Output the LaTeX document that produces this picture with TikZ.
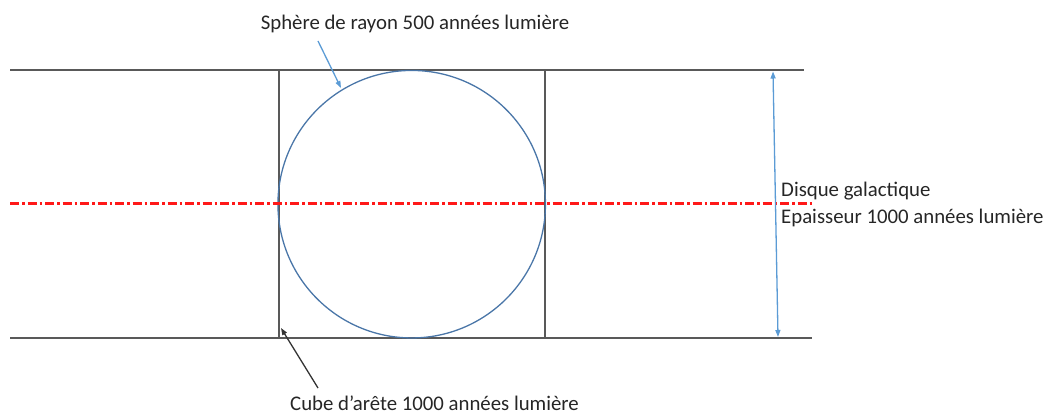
\documentclass[tikz,border=0pt]{standalone}
\usepackage{fontspec}
\setmainfont{Carlito}
\usetikzlibrary{arrows.meta}
\definecolor{lgray}{HTML}{595959}
\definecolor{cblue}{HTML}{4A76A8}
\definecolor{ablue}{HTML}{5B9BD5}
\definecolor{redline}{rgb}{1,0.1,0.1}
\begin{document}
\begin{tikzpicture}[x=1pt,y=-1pt,
  edge/.style={draw=lgray,line width=2pt},
  lbl/.style={font=\fontsize{20.8}{24}\selectfont,text=black!85,inner sep=0pt},
  tip/.style={-{Triangle[length=7pt,width=5pt]}}]
\useasboundingbox (0,0) rectangle (1052,414);
\coordinate (tl) at (10,70.5);
\coordinate (tr) at (804,70.5);
\coordinate (bl) at (10,338);
\coordinate (br) at (812,338);
\coordinate (ct) at (278.5,70.5);
\coordinate (cb) at (278.5,338);
\coordinate (dt) at (545,70.5);
\coordinate (db) at (545,338);
\coordinate (ml) at (10,203.5);
\coordinate (mr) at (812,203.5);
\draw[edge] (tl) -- (tr);
\draw[edge] (bl) -- (br);
\draw[edge] (ct) -- (cb);
\draw[edge] (dt) -- (db);
\node[draw=cblue,line width=1.3pt,circle,minimum size=267.5pt,inner sep=0pt] (sph) at (411.7,204.2) {};
\draw[color=redline,line width=2.4pt,dash pattern=on 9pt off 3pt on 2.5pt off 3pt] (ml) -- (mr);
\coordinate (at) at (773,71.5);
\coordinate (ab) at (778,337);
\draw[ablue,line width=1.3pt,{Triangle[length=7pt,width=5pt]}-{Triangle[length=7pt,width=5pt]}] (at) -- (ab);
\node[lbl,anchor=base west] (d1) at (781,197) {Disque galactique};
\node[lbl,anchor=base west] (d2) at (781,223) {Epaisseur 1000 années lumière};
\node[lbl,anchor=base] (sl) at (415,30) {Sphère de rayon 500 années lumière};
\node[lbl,anchor=base] (cl) at (434.5,410) {Cube d’arête 1000 années lumière};
\coordinate (sa) at (318,41);
\coordinate (sb) at (341,88);
\draw[ablue,line width=1.3pt,tip] (sa) -- (sb);
\coordinate (ca) at (318,388);
\coordinate (cbb) at (281,328);
\draw[black!80,line width=1.3pt,tip] (ca) -- (cbb);
\end{tikzpicture}
\end{document}
